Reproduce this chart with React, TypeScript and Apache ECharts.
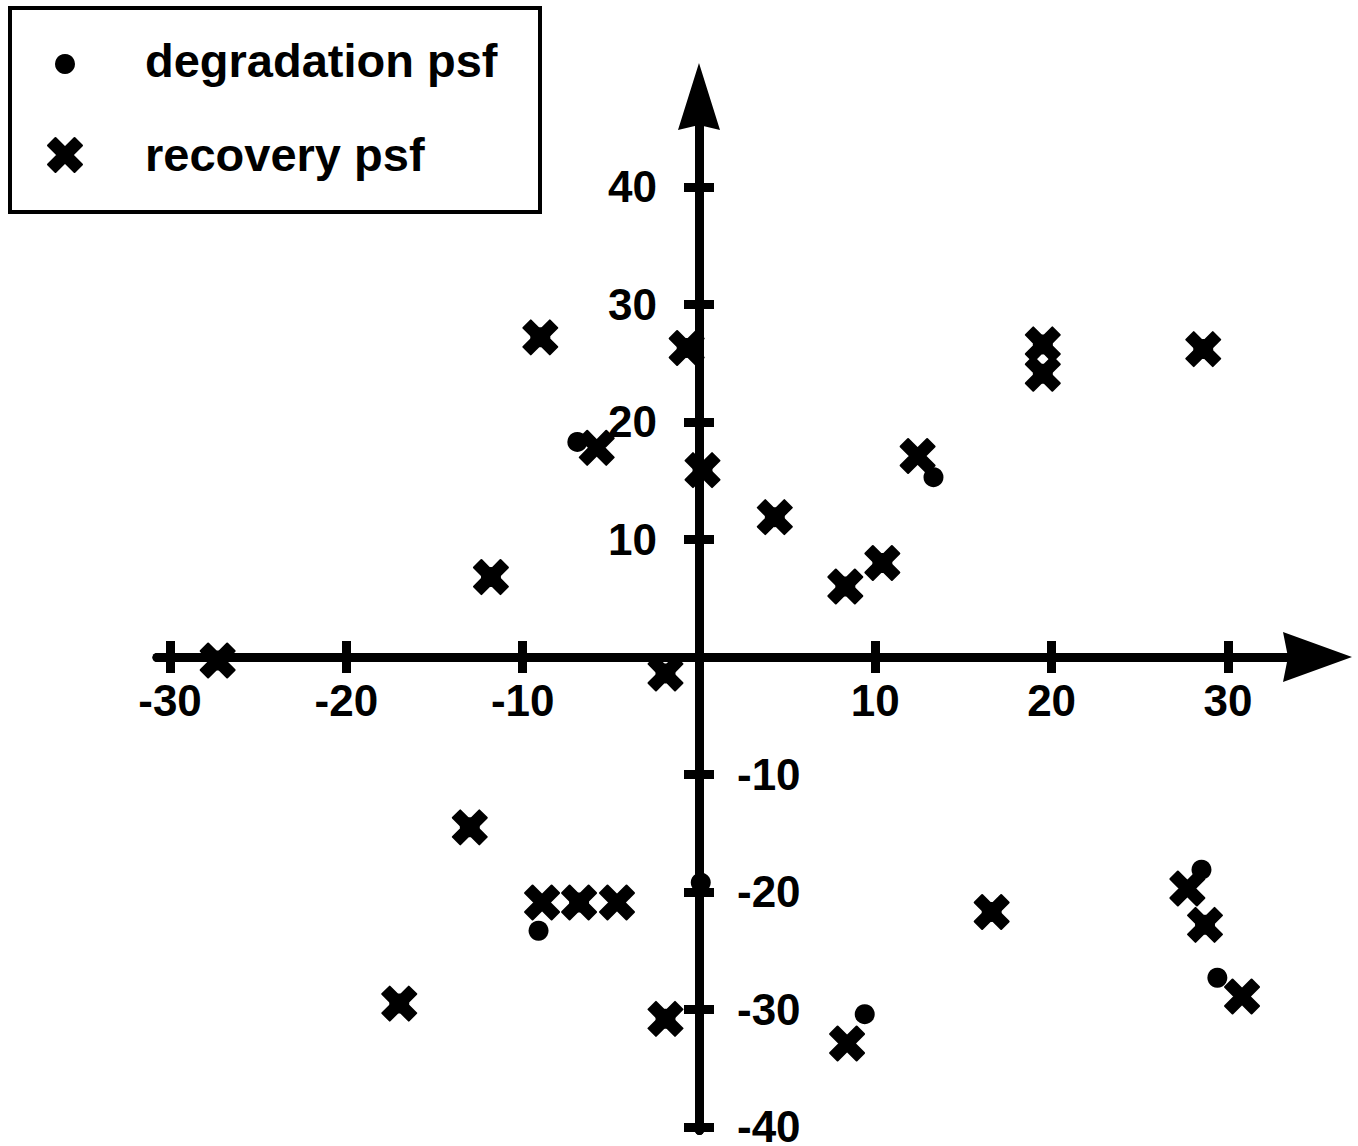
import React, { useEffect, useRef } from "react";
import * as echarts from "echarts";

// ---- data ----
const seriesNames = ["degradation psf", "recovery psf"];

const degradationX = [-27.3, -9.0, -0.7, -6.9, 0.2, -11.8, 4.3, 8.3, 10.4, 13.3, 19.5, 19.5, 28.6, -1.9, -13.0, -9.1, -6.8, 0.1, -17.0, -1.9, 9.4, 16.6, 28.5, 28.7, 29.4];
const degradationY = [-0.3, 27.2, 26.3, 18.3, 15.9, 6.8, 11.9, 6.0, 8.0, 15.3, 26.6, 24.1, 26.2, -1.4, -14.5, -23.3, -20.9, -19.2, -29.5, -30.8, -30.4, -21.7, -18.1, -22.8, -27.3];

const recoveryX = [-27.3, -9.0, -0.7, -5.8, 0.2, -11.8, 4.3, 8.3, 10.4, 12.4, 19.5, 19.5, 28.6, -1.9, -13.0, -8.9, -6.8, -4.65, -17.0, -1.9, 8.4, 16.6, 27.7, 28.7, 30.8];
const recoveryY = [-0.3, 27.2, 26.3, 17.8, 15.9, 6.8, 11.9, 6.0, 8.0, 17.1, 26.6, 24.1, 26.2, -1.4, -14.5, -20.9, -20.9, -20.9, -29.5, -30.8, -32.9, -21.7, -19.7, -22.8, -28.9];

const xTickValues = [-30, -20, -10, 10, 20, 30];
const yTickValues = [-40, -30, -20, -10, 10, 20, 30, 40];
const yLabelsLeft = [10, 20, 30, 40];
const yLabelsRight = [-10, -20, -30, -40];

const FONT = "'Liberation Sans', Arial, Helvetica, sans-serif";
const X_PATH = "M22,0 L50,28 L78,0 L100,22 L72,50 L100,78 L78,100 L50,72 L22,100 L0,78 L28,50 L0,22 Z";
const X_PTS = [[22,0],[50,28],[78,0],[100,22],[72,50],[100,78],[78,100],[50,72],[22,100],[0,78],[28,50],[0,22]];

export default function App() {
  const ref = useRef<HTMLDivElement>(null);
  useEffect(() => {
    if (!ref.current) return;
    const chart = echarts.init(ref.current, null, { renderer: "svg" });
    const xMin = -30.74, xMax = 35.08, yMin = -40.3, yMax = 47.7;
    const gLeft = 157, gRight = 1317.5, gTop = 96.5, gBottom = 1130.5;
    // pixel offsets that put each axis on the other's zero
    const xZeroPx = gLeft + (0 - xMin) / (xMax - xMin) * (gRight - gLeft);
    const yZeroPx = gBottom - (0 - yMin) / (yMax - yMin) * (gBottom - gTop);
    const xAxisOffset = -(gBottom - yZeroPx);
    const yAxisOffset = -(xZeroPx - gLeft);
    const lineStyle = { color: "#000", width: 9 };
    const tickStyle = { color: "#000", width: 9, cap: "butt" };
    const labelStyle = { color: "#000", fontSize: 44, fontWeight: "bold", fontFamily: FONT };
    const legendIconPts = X_PTS.map(([px, py]) => [65 + (px - 50) * 0.34, 155 + (py - 50) * 0.34]);
    chart.setOption({
      animation: false,
      backgroundColor: "#fff",
      grid: { left: gLeft, right: 1358 - gRight, top: gTop, bottom: 1146 - gBottom, containLabel: false, outerBoundsMode: "none" },
      xAxis: [
        {
          type: "value", min: xMin, max: xMax, position: "bottom", offset: xAxisOffset,
          axisLine: { show: true, onZero: false, lineStyle,
            symbol: ["none", "path://M25,0 L50,69 L25,64 L0,69 Z"], symbolSize: [50, 69] },
          axisTick: { show: true, customValues: xTickValues, length: 16, lineStyle: tickStyle },
          axisLabel: { show: true, customValues: xTickValues, margin: 22, ...labelStyle },
          splitLine: { show: false },
        },
        {
          type: "value", min: xMin, max: xMax, position: "bottom", offset: xAxisOffset,
          axisLine: { show: true, onZero: false, lineStyle },
          axisTick: { show: true, inside: true, customValues: xTickValues, length: 16, lineStyle: tickStyle },
          axisLabel: { show: false },
          splitLine: { show: false },
        },
      ],
      yAxis: [
        {
          type: "value", min: yMin, max: yMax, position: "left", offset: yAxisOffset,
          axisLine: { show: true, onZero: false, lineStyle,
            symbol: ["none", "path://M21,0 L42,67 L21,62 L0,67 Z"], symbolSize: [42, 67] },
          axisTick: { show: true, customValues: yTickValues, length: 15, lineStyle: tickStyle },
          axisLabel: { show: true, customValues: yLabelsLeft, margin: 42, ...labelStyle },
          splitLine: { show: false },
        },
        {
          type: "value", min: yMin, max: yMax, position: "left", offset: yAxisOffset,
          axisLine: { show: true, onZero: false, lineStyle },
          axisTick: { show: true, inside: true, customValues: yTickValues, length: 15, lineStyle: tickStyle },
          axisLabel: { show: true, inside: true, customValues: yLabelsRight, margin: 38, ...labelStyle },
          splitLine: { show: false },
        },
      ],
      series: [
        {
          name: seriesNames[0], type: "scatter", xAxisIndex: 0, yAxisIndex: 0,
          symbol: "circle", symbolSize: 20, z: 3,
          itemStyle: { color: "#000", opacity: 1 },
          data: degradationX.map((x, i) => [x, degradationY[i]]),
        },
        {
          name: seriesNames[1], type: "scatter", xAxisIndex: 0, yAxisIndex: 0,
          symbol: "path://" + X_PATH, symbolSize: 34, z: 4,
          itemStyle: { color: "#000", borderColor: "#000", borderWidth: 2, borderJoin: "round", opacity: 1 },
          data: recoveryX.map((x, i) => [x, recoveryY[i]]),
        },
      ],
      graphic: [
        { type: "rect", shape: { x: 10, y: 8, width: 530, height: 204 }, style: { fill: "#fff", stroke: "#000", lineWidth: 4 }, z: 10 },
        { type: "circle", shape: { cx: 65, cy: 64, r: 10 }, style: { fill: "#000" }, z: 11 },
        { type: "polygon", shape: { points: legendIconPts }, style: { fill: "#000", stroke: "#000", lineWidth: 2, lineJoin: "round" }, z: 11 },
        { type: "text", x: 145, y: 60, style: { text: seriesNames[0], fill: "#000", font: `bold 47px ${FONT}`, verticalAlign: "middle", align: "left" }, z: 11 },
        { type: "text", x: 145, y: 154, style: { text: seriesNames[1], fill: "#000", font: `bold 47px ${FONT}`, verticalAlign: "middle", align: "left" }, z: 11 },
      ],
    });
    return () => chart.dispose();
  }, []);
  return <div ref={ref} style={{ position: "absolute", left: 0, top: 0, width: 1358, height: 1146 }} />;
}
